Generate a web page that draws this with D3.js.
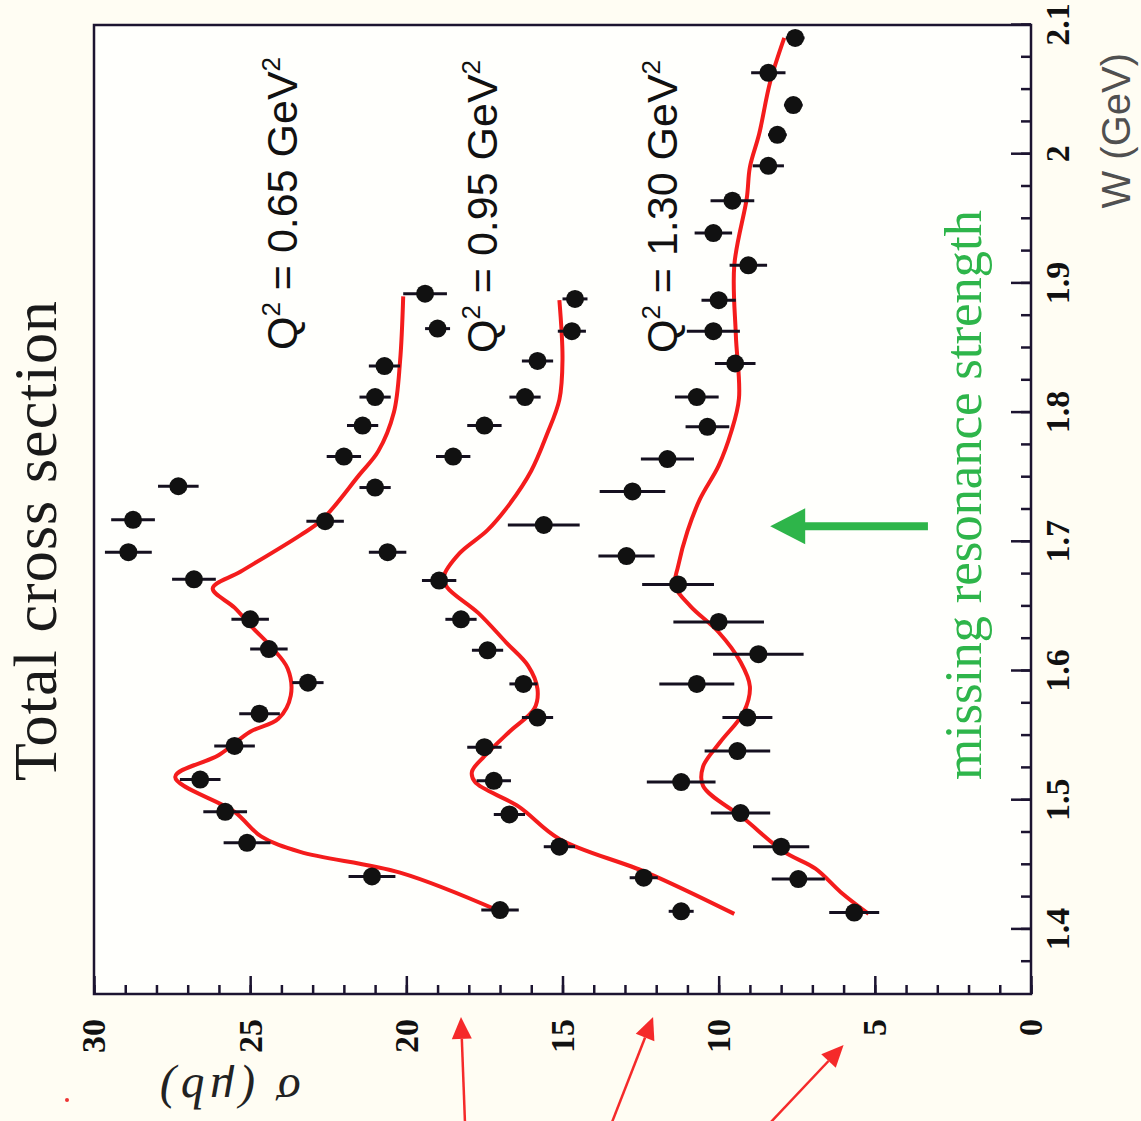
<!DOCTYPE html>
<html>
<head>
<meta charset="utf-8">
<script src="https://cdn.jsdelivr.net/npm/d3@7"></script>
<style>
  html, body { margin: 0; padding: 0; background: #fffdf3; }
  svg { display: block; }
</style>
</head>
<body>
<script>
// Q^2 = 0.65 GeV^2 : W (GeV), sigma (mub), error
var w065 = [1.415, 1.441, 1.467, 1.491, 1.516, 1.542, 1.567, 1.591, 1.617, 1.640,
            1.671, 1.692, 1.717, 1.743, 1.766, 1.790, 1.812, 1.836, 1.865, 1.892];
var sig065 = [17.0, 21.1, 25.1, 25.8, 26.6, 25.5, 24.7, 23.15, 24.4, 25.0,
              26.8, 28.9, 28.75, 27.3, 22.0, 21.4, 21.0, 20.7, 19.0, 19.4];
var err065 = [0.6, 0.75, 0.75, 0.7, 0.65, 0.65, 0.65, 0.5, 0.6, 0.6,
              0.7, 0.75, 0.7, 0.65, 0.55, 0.5, 0.5, 0.5, 0.4, 0.7];

// Q^2 = 0.95 GeV^2
var w095 = [1.414, 1.440, 1.464, 1.489, 1.515, 1.541, 1.564, 1.590, 1.616, 1.640,
            1.670, 1.692, 1.716, 1.742, 1.766, 1.790, 1.812, 1.840, 1.863, 1.888];
var sig095 = [11.2, 12.4, 15.1, 16.7, 17.2, 17.5, 15.8, 16.25, 17.4, 18.25,
              18.95, 20.6, 22.6, 21.0, 18.5, 17.5, 16.2, 15.8, 14.7, 14.6];
var err095 = [0.4, 0.45, 0.5, 0.5, 0.55, 0.55, 0.5, 0.45, 0.5, 0.5,
              0.55, 0.6, 0.6, 0.5, 0.55, 0.55, 0.5, 0.5, 0.45, 0.4];

// Q^2 = 1.30 GeV^2
var w130 = [1.413, 1.439, 1.464, 1.490, 1.514, 1.538, 1.564, 1.590, 1.613, 1.638,
            1.667, 1.689, 1.713, 1.739, 1.764, 1.789, 1.812, 1.838, 1.863, 1.887,
            1.914, 1.939, 1.964, 1.991, 2.015, 2.038, 2.063, 2.090];
var sig130 = [5.66, 7.45, 8.0, 9.3, 11.2, 9.4, 9.08, 10.7, 8.73, 10.0,
              11.3, 12.95, 15.6, 12.76, 11.64, 10.36, 10.7, 9.47, 10.17, 10.0,
              9.05, 10.17, 9.56, 8.41, 8.12, 7.61, 8.41, 7.55];
var err130 = [0.8, 0.85, 0.9, 0.95, 1.1, 1.05, 0.8, 1.2, 1.45, 1.45,
              1.15, 0.9, 1.15, 1.05, 0.85, 0.7, 0.7, 0.65, 0.85, 0.55,
              0.6, 0.6, 0.7, 0.5, 0.3, 0.3, 0.55, 0.3];

// model curves [W, sigma]
var curve065 = [[1.414, 17.0], [1.444, 20.2], [1.46, 23.4], [1.472, 24.65], [1.491, 25.5],
                [1.518, 27.4], [1.535, 26.0], [1.553, 25.0], [1.563, 24.1], [1.581, 23.7],
                [1.602, 23.8], [1.618, 24.3], [1.633, 24.9], [1.649, 25.5], [1.664, 26.2],
                [1.677, 25.3], [1.705, 23.4], [1.717, 22.7], [1.752, 21.5], [1.77, 20.9],
                [1.8, 20.4], [1.84, 20.2], [1.89, 20.1]];
var curve095 = [[1.412, 9.5], [1.444, 12.3], [1.47, 15.1], [1.495, 16.4], [1.514, 17.8],
                [1.522, 17.9], [1.534, 17.5], [1.553, 16.7], [1.571, 15.9], [1.586, 15.8],
                [1.604, 16.1], [1.622, 16.8], [1.645, 17.7], [1.665, 18.7], [1.673, 18.8],
                [1.691, 18.3], [1.709, 17.4], [1.729, 16.7], [1.755, 16.0], [1.783, 15.5],
                [1.81, 15.1], [1.841, 15.0], [1.887, 15.1]];
var curve130 = [[1.412, 5.2], [1.429, 6.1], [1.447, 6.9], [1.46, 7.9], [1.486, 9.2],
                [1.511, 10.5], [1.526, 10.5], [1.545, 9.95], [1.568, 9.2], [1.588, 9.0],
                [1.607, 9.3], [1.63, 10.0], [1.65, 10.9], [1.666, 11.4], [1.681, 11.3],
                [1.708, 11.0], [1.733, 10.6], [1.759, 10.0], [1.785, 9.6], [1.811, 9.35],
                [1.86, 9.45], [1.914, 9.5], [1.966, 9.1], [1.99, 9.0], [2.016, 8.7],
                [2.056, 8.35], [2.09, 7.9]];

var sigmaTicks = [0, 5, 10, 15, 20, 25, 30];
var wTicks = [1.4, 1.5, 1.6, 1.7, 1.8, 1.9, 2.0, 2.1];
var wTickLabels = ["1.4", "1.5", "1.6", "1.7", "1.8", "1.9", "2", "2.1"];
var q2Values = ["0.65", "0.95", "1.30"];

var width = 1141, height = 1121;

var svg = d3.select("body").append("svg")
    .attr("width", width)
    .attr("height", height);

svg.append("rect")
    .attr("width", width)
    .attr("height", height)
    .attr("fill", "#fffdf3");

// the figure is drawn upright (W along x, sigma up) and then turned a quarter turn
var g = svg.append("g")
    .attr("transform", "translate(0," + height + ") rotate(-90)");

var x = d3.scaleLinear().domain([1.35, 2.1]).range([127, 1096]);
var y = d3.scaleLinear().domain([0, 30]).range([1031, 94]);

// plot area
g.append("rect")
    .attr("x", x.range()[0])
    .attr("y", y.range()[1])
    .attr("width", x.range()[1] - x.range()[0])
    .attr("height", y.range()[0] - y.range()[1])
    .attr("fill", "#fffffc");

// model curves
var line = d3.line()
    .x(d => x(d[0]))
    .y(d => y(d[1]))
    .curve(d3.curveCatmullRom.alpha(0.5));

[curve065, curve095, curve130].forEach(function (c) {
    g.append("path")
        .datum(c)
        .attr("d", line)
        .attr("fill", "none")
        .attr("stroke", "#f41c1c")
        .attr("stroke-width", 4)
        .attr("stroke-linejoin", "round");
});

// data points with error bars
var sets = [[w065, sig065, err065], [w095, sig095, err095], [w130, sig130, err130]];
sets.forEach(function (s) {
    var pts = s[0].map((w, i) => ({ w: w, s: s[1][i], e: s[2][i] }));
    var pg = g.append("g");
    pg.selectAll("line")
        .data(pts)
        .enter().append("line")
        .attr("x1", d => x(d.w))
        .attr("x2", d => x(d.w))
        .attr("y1", d => y(d.s - d.e))
        .attr("y2", d => y(d.s + d.e))
        .attr("stroke", "#15101f")
        .attr("stroke-width", 3);
    pg.selectAll("circle")
        .data(pts)
        .enter().append("circle")
        .attr("cx", d => x(d.w))
        .attr("cy", d => y(d.s))
        .attr("r", 9)
        .attr("fill", "#111");
});

// frame
g.append("rect")
    .attr("x", x.range()[0])
    .attr("y", y.range()[1])
    .attr("width", x.range()[1] - x.range()[0])
    .attr("height", y.range()[0] - y.range()[1])
    .attr("fill", "none")
    .attr("stroke", "#1c1430")
    .attr("stroke-width", 2.5);

// axes: minor + major ticks pointing inward
var sigAxisMinor = d3.axisLeft(y).tickValues(d3.range(0, 31, 1))
    .tickSizeInner(-9).tickSizeOuter(0).tickFormat("");
var sigAxis = d3.axisLeft(y).tickValues(sigmaTicks)
    .tickSizeInner(-18).tickSizeOuter(0).tickPadding(25);

var wAxisMinor = d3.axisBottom(x).tickValues(d3.range(1.375, 2.1, 0.025))
    .tickSizeInner(-10).tickSizeOuter(0).tickFormat("");
var wAxis = d3.axisBottom(x).tickValues(wTicks)
    .tickSizeInner(-20).tickSizeOuter(0).tickPadding(14)
    .tickFormat((d, i) => wTickLabels[i]);

[[sigAxisMinor, "translate(" + x.range()[0] + ",0)"],
 [sigAxis, "translate(" + x.range()[0] + ",0)"],
 [wAxisMinor, "translate(0," + y.range()[0] + ")"],
 [wAxis, "translate(0," + y.range()[0] + ")"]].forEach(function (a) {
    var ax = g.append("g").attr("transform", a[1]).call(a[0]);
    ax.select(".domain").remove();
    ax.selectAll("line").attr("stroke", "#1c1430").attr("stroke-width", 2.5);
    ax.selectAll("text")
        .attr("fill", "#111")
        .style("font-family", "'Liberation Serif', 'DejaVu Serif', serif")
        .style("font-weight", "bold")
        .style("font-size", "34px");
});

// titles
g.append("text")
    .attr("x", 580)
    .attr("y", 56)
    .attr("text-anchor", "middle")
    .attr("textLength", 480)
    .style("font-family", "'Liberation Serif', serif")
    .style("font-size", "62px")
    .attr("fill", "#1a1a1a")
    .text("Total cross section");

g.append("text")
    .attr("transform", "translate(46,228) rotate(-90)")
    .attr("text-anchor", "middle")
    .style("font-family", "'Liberation Serif', serif")
    .style("font-style", "italic")
    .style("font-size", "48px")
    .style("letter-spacing", "5px")
    .attr("fill", "#222")
    .text("\u03c3 (\u03bcb)");

g.append("text")
    .attr("x", 1068)
    .attr("y", 1130)
    .attr("text-anchor", "end")
    .style("font-family", "'Liberation Sans', Arial, sans-serif")
    .style("font-size", "40px")
    .attr("fill", "#505050")
    .text("W (GeV)");

// Q^2 labels
var q2Pos = [[771, 297], [768, 497], [768, 677]];
q2Values.forEach(function (q, i) {
    var t = g.append("text")
        .attr("x", q2Pos[i][0])
        .attr("y", q2Pos[i][1])
        .style("font-family", "'Liberation Sans', Arial, sans-serif")
        .style("font-size", "43px")
        .attr("fill", "#111");
    t.append("tspan").text("Q");
    t.append("tspan").attr("dy", -17).style("font-size", "26px").text("2");
    t.append("tspan").attr("dy", 17).text(" = " + q + " GeV");
    t.append("tspan").attr("dy", -17).style("font-size", "26px").text("2");
});

// missing resonance annotation
var green = "#2eb54a";
g.append("text")
    .attr("x", 341)
    .attr("y", 981)
    .attr("textLength", 570)
    .style("font-family", "'Liberation Serif', serif")
    .style("font-size", "53px")
    .attr("fill", green)
    .text("missing resonance strength");

var gArrow = { w: 1.712, from: 3.3, to: 8.35 };
g.append("line")
    .attr("x1", x(gArrow.w)).attr("x2", x(gArrow.w))
    .attr("y1", y(gArrow.from)).attr("y2", y(gArrow.to) + 30)
    .attr("stroke", green)
    .attr("stroke-width", 8);
g.append("path")
    .attr("d", "M" + x(gArrow.w) + "," + y(gArrow.to) +
               "L" + (x(gArrow.w) - 18) + "," + (y(gArrow.to) + 35) +
               "L" + (x(gArrow.w) + 18) + "," + (y(gArrow.to) + 35) + "Z")
    .attr("fill", green);

// red arrows under the sigma axis (tail u, tail sigma, tip u, tip sigma)
var redArrows = [[-20, 18.1, 104, 18.25], [-20, 13.65, 104, 12.1], [-20, 8.9, 76, 6.0]];
redArrows.forEach(function (a) {
    var x0 = a[0], y0 = y(a[1]), x1 = a[2], y1 = y(a[3]);
    var dx = x1 - x0, dy = y1 - y0, len = Math.sqrt(dx * dx + dy * dy);
    var ux = dx / len, uy = dy / len;
    var bx = x1 - ux * 22, by = y1 - uy * 22;
    g.append("line")
        .attr("x1", x0).attr("y1", y0).attr("x2", bx).attr("y2", by)
        .attr("stroke", "#f52a2a").attr("stroke-width", 2.5);
    g.append("path")
        .attr("d", "M" + x1 + "," + y1 +
                   "L" + (bx - uy * 10) + "," + (by + ux * 10) +
                   "L" + (bx + uy * 10) + "," + (by - ux * 10) + "Z")
        .attr("fill", "#f52a2a");
});

g.append("circle")
    .attr("cx", 21).attr("cy", 67).attr("r", 2)
    .attr("fill", "#e33");
</script>
</body>
</html>
